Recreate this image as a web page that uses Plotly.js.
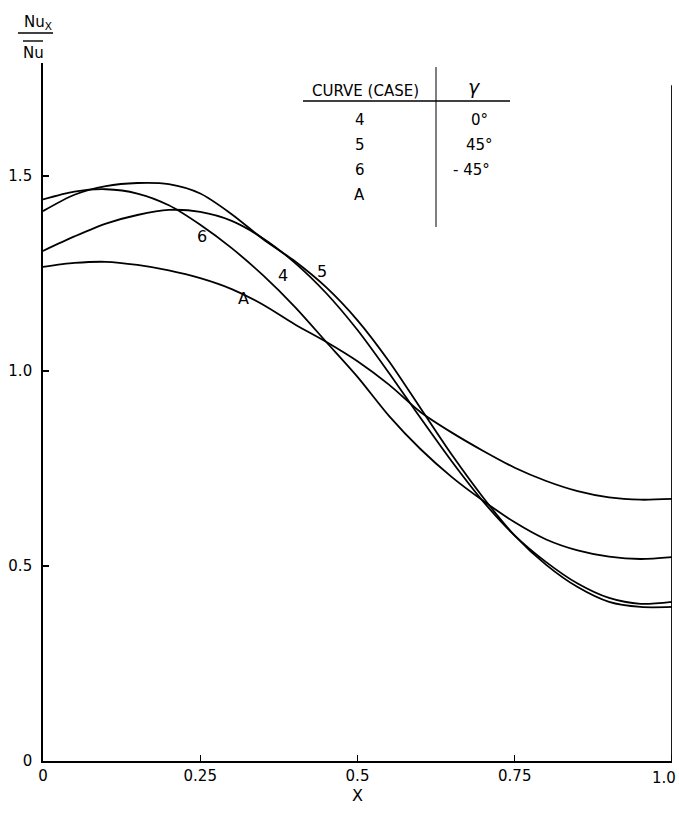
<!DOCTYPE html>
<html>
<head>
<meta charset="utf-8">
<script src="https://cdn.plot.ly/plotly-3.0.1.min.js"></script>
<style>html,body{margin:0;padding:0;background:#fff;}#chart{width:679px;height:813px;}</style>
</head>
<body>
<div id="chart"></div>
<script>
// x positions (dimensionless X)
const xs = [0, 0.05, 0.1, 0.15, 0.2, 0.25, 0.3, 0.35, 0.4, 0.45, 0.5, 0.55, 0.6, 0.65, 0.7, 0.75, 0.8, 0.85, 0.9, 0.95, 1.0];
// Nu_x / Nu-bar for each curve (case)
const curve4 = [1.308, 1.345, 1.378, 1.400, 1.413, 1.408, 1.385, 1.340, 1.278, 1.200, 1.105, 0.995, 0.880, 0.768, 0.665, 0.578, 0.510, 0.455, 0.418, 0.403, 0.408];
const curve5 = [1.410, 1.452, 1.474, 1.482, 1.479, 1.455, 1.402, 1.338, 1.282, 1.215, 1.130, 1.025, 0.905, 0.785, 0.675, 0.578, 0.503, 0.446, 0.408, 0.395, 0.395];
const curve6 = [1.440, 1.460, 1.466, 1.455, 1.425, 1.375, 1.315, 1.245, 1.165, 1.075, 0.985, 0.885, 0.800, 0.728, 0.667, 0.612, 0.568, 0.540, 0.524, 0.518, 0.523];
const curveA = [1.267, 1.277, 1.280, 1.272, 1.258, 1.238, 1.210, 1.170, 1.120, 1.075, 1.025, 0.965, 0.895, 0.842, 0.795, 0.752, 0.718, 0.692, 0.676, 0.670, 0.672];

const xTickVals = [0, 0.25, 0.5, 0.75];
const xTickText = ["0", "0.25", "0.5", "0.75"];
const xEndLabel = "1.0";
const yTickVals = [0, 0.5, 1.0, 1.5];
const yTickText = ["0", "0.5", "1.0", "1.5"];

const tableCases = ["4", "5", "6", "A"];
const tableGamma = ["0°", "45°", "- 45°", ""];

const FONT = "DejaVu Sans, Liberation Sans, Arial, sans-serif";
const lineStyle = {color: "#000", width: 1.8, shape: "spline", smoothing: 0.8};

const series = [["4", curve4], ["5", curve5], ["6", curve6], ["A", curveA]];
const traces = series.map(([name, ys]) => ({
  type: "scatter", mode: "lines", name: name, x: xs, y: ys,
  line: lineStyle, hoverinfo: "skip", showlegend: false
}));

// plot geometry: left 43, right 672, top 63, bottom 761
const L = 43, R = 672, T = 63, B = 761;
const W = 679, H = 813;
const px = v => (v - L) / (R - L);       // pixel x -> paper
const py = v => (B - v) / (B - T);       // pixel y -> paper

const txt = (x, y, text, size, extra) => Object.assign({
  xref: "paper", yref: "paper", x: px(x), y: py(y), text: text, showarrow: false,
  xanchor: "center", yanchor: "middle",
  font: {family: FONT, size: size, color: "#000"}
}, extra || {});

const annotations = [
  // curve labels
  {x: 0.252, y: 1.346, text: "6"},
  {x: 0.382, y: 1.246, text: "4"},
  {x: 0.444, y: 1.254, text: "5"},
  {x: 0.318, y: 1.187, text: "A"},
].map(a => Object.assign({xref: "x", yref: "y", showarrow: false, xanchor: "center", yanchor: "middle",
  font: {family: FONT, size: 16, color: "#000"}}, a));

// table header and rows
annotations.push(txt(365, 91, "CURVE (CASE)", 15));
annotations.push(txt(474, 87, "<i>γ</i>", 19));
tableCases.forEach((c, i) => {
  const rowY = 120 + i * 25;
  annotations.push(txt(360, rowY, c, 15));
  if (tableGamma[i]) annotations.push(txt(i === 2 ? 471 : 479, rowY, tableGamma[i], 15));
});

// y-axis title as a fraction
annotations.push(txt(38, 23, "Nu<sub>X</sub>", 15));
annotations.push(txt(33, 53, "Nu", 15));
// last x tick label at the page edge
annotations.push(txt(678, 778, xEndLabel, 15, {xanchor: "right"}));

const shapes = [
  // right boundary line at X = 1
  {type: "line", xref: "x", yref: "y", x0: 1, x1: 1, y0: 0, y1: 1.733, line: {color: "#000", width: 1.8}},
  // small tick at X = 1
  {type: "line", xref: "x", yref: "y", x0: 1, x1: 1, y0: 0, y1: 0.016, line: {color: "#000", width: 1.3}},
  // table lines
  {type: "line", xref: "paper", yref: "paper", x0: px(303), x1: px(510), y0: py(101), y1: py(101), line: {color: "#000", width: 1.4}},
  {type: "line", xref: "paper", yref: "paper", x0: px(436), x1: px(436), y0: py(67), y1: py(227), line: {color: "#000", width: 1}},
  // fraction bar and overline for y title
  {type: "line", xref: "paper", yref: "paper", x0: px(18), x1: px(53), y0: py(33), y1: py(33), line: {color: "#000", width: 1.4}},
  {type: "line", xref: "paper", yref: "paper", x0: px(23), x1: px(43), y0: py(41), y1: py(41), line: {color: "#000", width: 1.4}},
];

const layout = {
  width: W, height: H,
  margin: {l: L, r: W - R, t: T, b: H - B, pad: 0},
  paper_bgcolor: "#fff", plot_bgcolor: "#fff",
  font: {family: FONT, size: 15, color: "#000"},
  showlegend: false,
  xaxis: {
    range: [0, 1], tickvals: xTickVals, ticktext: xTickText,
    showgrid: false, zeroline: false, showline: true, linecolor: "#000", linewidth: 1.8,
    ticks: "inside", ticklen: 6, tickwidth: 1.3, tickcolor: "#000",
    tickfont: {family: FONT, size: 15, color: "#000"},
    title: {text: "X", font: {family: FONT, size: 16, color: "#000"}, standoff: 6}
  },
  yaxis: {
    range: [0, (B - T) / 390], tickvals: yTickVals, ticktext: yTickText,
    showgrid: false, zeroline: false, showline: true, linecolor: "#000", linewidth: 1.8,
    ticks: "inside", ticklen: 6, tickwidth: 1.3, tickcolor: "#000",
    ticklabelstandoff: 6,
    tickfont: {family: FONT, size: 15, color: "#000"}
  },
  annotations: annotations,
  shapes: shapes
};

Plotly.newPlot("chart", traces, layout, {staticPlot: true, displayModeBar: false});
</script>
</body>
</html>
